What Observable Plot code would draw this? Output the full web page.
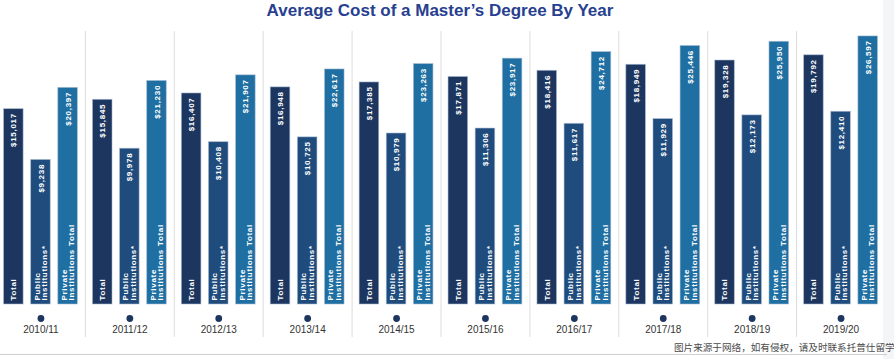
<!DOCTYPE html>
<html>
<head>
<meta charset="utf-8">
<script src="https://cdn.jsdelivr.net/npm/d3@7"></script>
<script src="https://cdn.jsdelivr.net/npm/@observablehq/plot@0.6"></script>
<style>
html, body { margin: 0; padding: 0; }
body {
  width: 894px; height: 359px; overflow: hidden; position: relative;
  background: linear-gradient(to right, #ffffff 0, #ffffff 883px, #f4f5f7 883px);
  font-family: "Liberation Sans", Arial, sans-serif;
}
#title {
  position: absolute; left: 0; top: 0; width: 880px; height: 24px;
  text-align: center; font-weight: 700; font-size: 17px; line-height: 21px;
  color: #27408f; white-space: nowrap;
}
#chart { position: absolute; left: -4px; top: 24px; width: 893px; height: 335px; }
#chart svg { position: absolute; left: 0; top: 0; max-width: none; }
#baseline { position: absolute; left: 0; top: 354px; width: 887px; height: 1px; background: #cfcfcf; }
#wm {
  position: absolute; left: 674px; top: 341px; font-size: 9.6px; line-height: 12px;
  color: #4a4a4a; white-space: nowrap; font-family: "Noto Sans CJK SC", sans-serif;
}
</style>
</head>
<body>
<div id="title">Average Cost of a Master’s Degree By Year</div>
<div id="chart"></div>
<div id="baseline"></div>
<div id="wm">图片来源于网络，如有侵权，请及时联系托普仕留学删除</div>
<script>
// ---- data ----
const years = ["2010/11", "2011/12", "2012/13", "2013/14", "2014/15", "2015/16", "2016/17", "2017/18", "2018/19", "2019/20"];
const totalCost = [15017, 15845, 16407, 16948, 17385, 17871, 18416, 18949, 19328, 19792];
const publicCost = [9238, 9978, 10408, 10725, 10979, 11306, 11617, 11929, 12173, 12410];
const privateCost = [20397, 21230, 21907, 22617, 23263, 23917, 24712, 25446, 25950, 26597];
const seriesKeys = ["Total", "Public", "Private"];
const seriesLabels = ["Total", "Public\nInstitutions*", "Private\nInstitutions Total"];

// ---- config (the infographic draws each series on its own scale) ----
const seriesValues = [totalCost, publicCost, privateCost];
const yDomains = [[-2300, 21900], [-283, 17697], [-5713, 27190]];
const colors = ["#1d365f", "#1f4c7c", "#1f6fa2"];
const fmt = d3.format(",");

const common = {
  width: 893, height: 335,
  marginLeft: 0, marginRight: 4, marginTop: 7, marginBottom: 55,
  style: { background: "transparent", fontFamily: "Liberation Sans, Arial, sans-serif", overflow: "visible" },
  fx: { domain: years, padding: 0, round: false, axis: null },
  x: { domain: seriesKeys, padding: 0.278, round: false, axis: null }
};

const chart = document.getElementById("chart");

// base layer: dividers, dots, year labels
const base = Plot.plot({
  ...common,
  y: { domain: yDomains[0], axis: null },
  marks: [
    Plot.frame({ anchor: "left", stroke: "#dcdcdc", strokeWidth: 1, insetBottom: -32 }),
    Plot.dot(years, { fx: d => d, frameAnchor: "bottom", dy: 14, r: 3.4, fill: "#1d365f" }),
    Plot.text(years, { fx: d => d, text: d => d, frameAnchor: "bottom", dy: 28, fontSize: 10, fill: "#333333" })
  ]
});
chart.appendChild(base);

// one layer per series
seriesKeys.forEach((key, i) => {
  const rows = years.map((year, j) => ({ year, key, value: seriesValues[i][j] }));
  const p = Plot.plot({
    ...common,
    y: { domain: yDomains[i], axis: null },
    marks: [
      Plot.barY(rows, {
        fx: "year", x: "key", y1: yDomains[i][0], y2: "value",
        fill: colors[i], stroke: "#a9bdd6", strokeOpacity: 0.7, strokeWidth: 0.8
      }),
      Plot.text(rows, {
        fx: "year", x: "key", y: "value", text: d => "$" + fmt(d.value),
        rotate: -90, textAnchor: "end", dy: 4, fill: "white", fontSize: 8, fontWeight: 700
      }),
      Plot.text(rows, {
        fx: "year", x: "key", frameAnchor: "bottom", text: () => seriesLabels[i],
        rotate: -90, textAnchor: "start", dy: -4, lineAnchor: "middle", lineHeight: 0.95,
        fill: "white", fontSize: 8, fontWeight: 700
      })
    ]
  });
  p.style.letterSpacing = "0.7px";
  chart.appendChild(p);
});
</script>
</body>
</html>
